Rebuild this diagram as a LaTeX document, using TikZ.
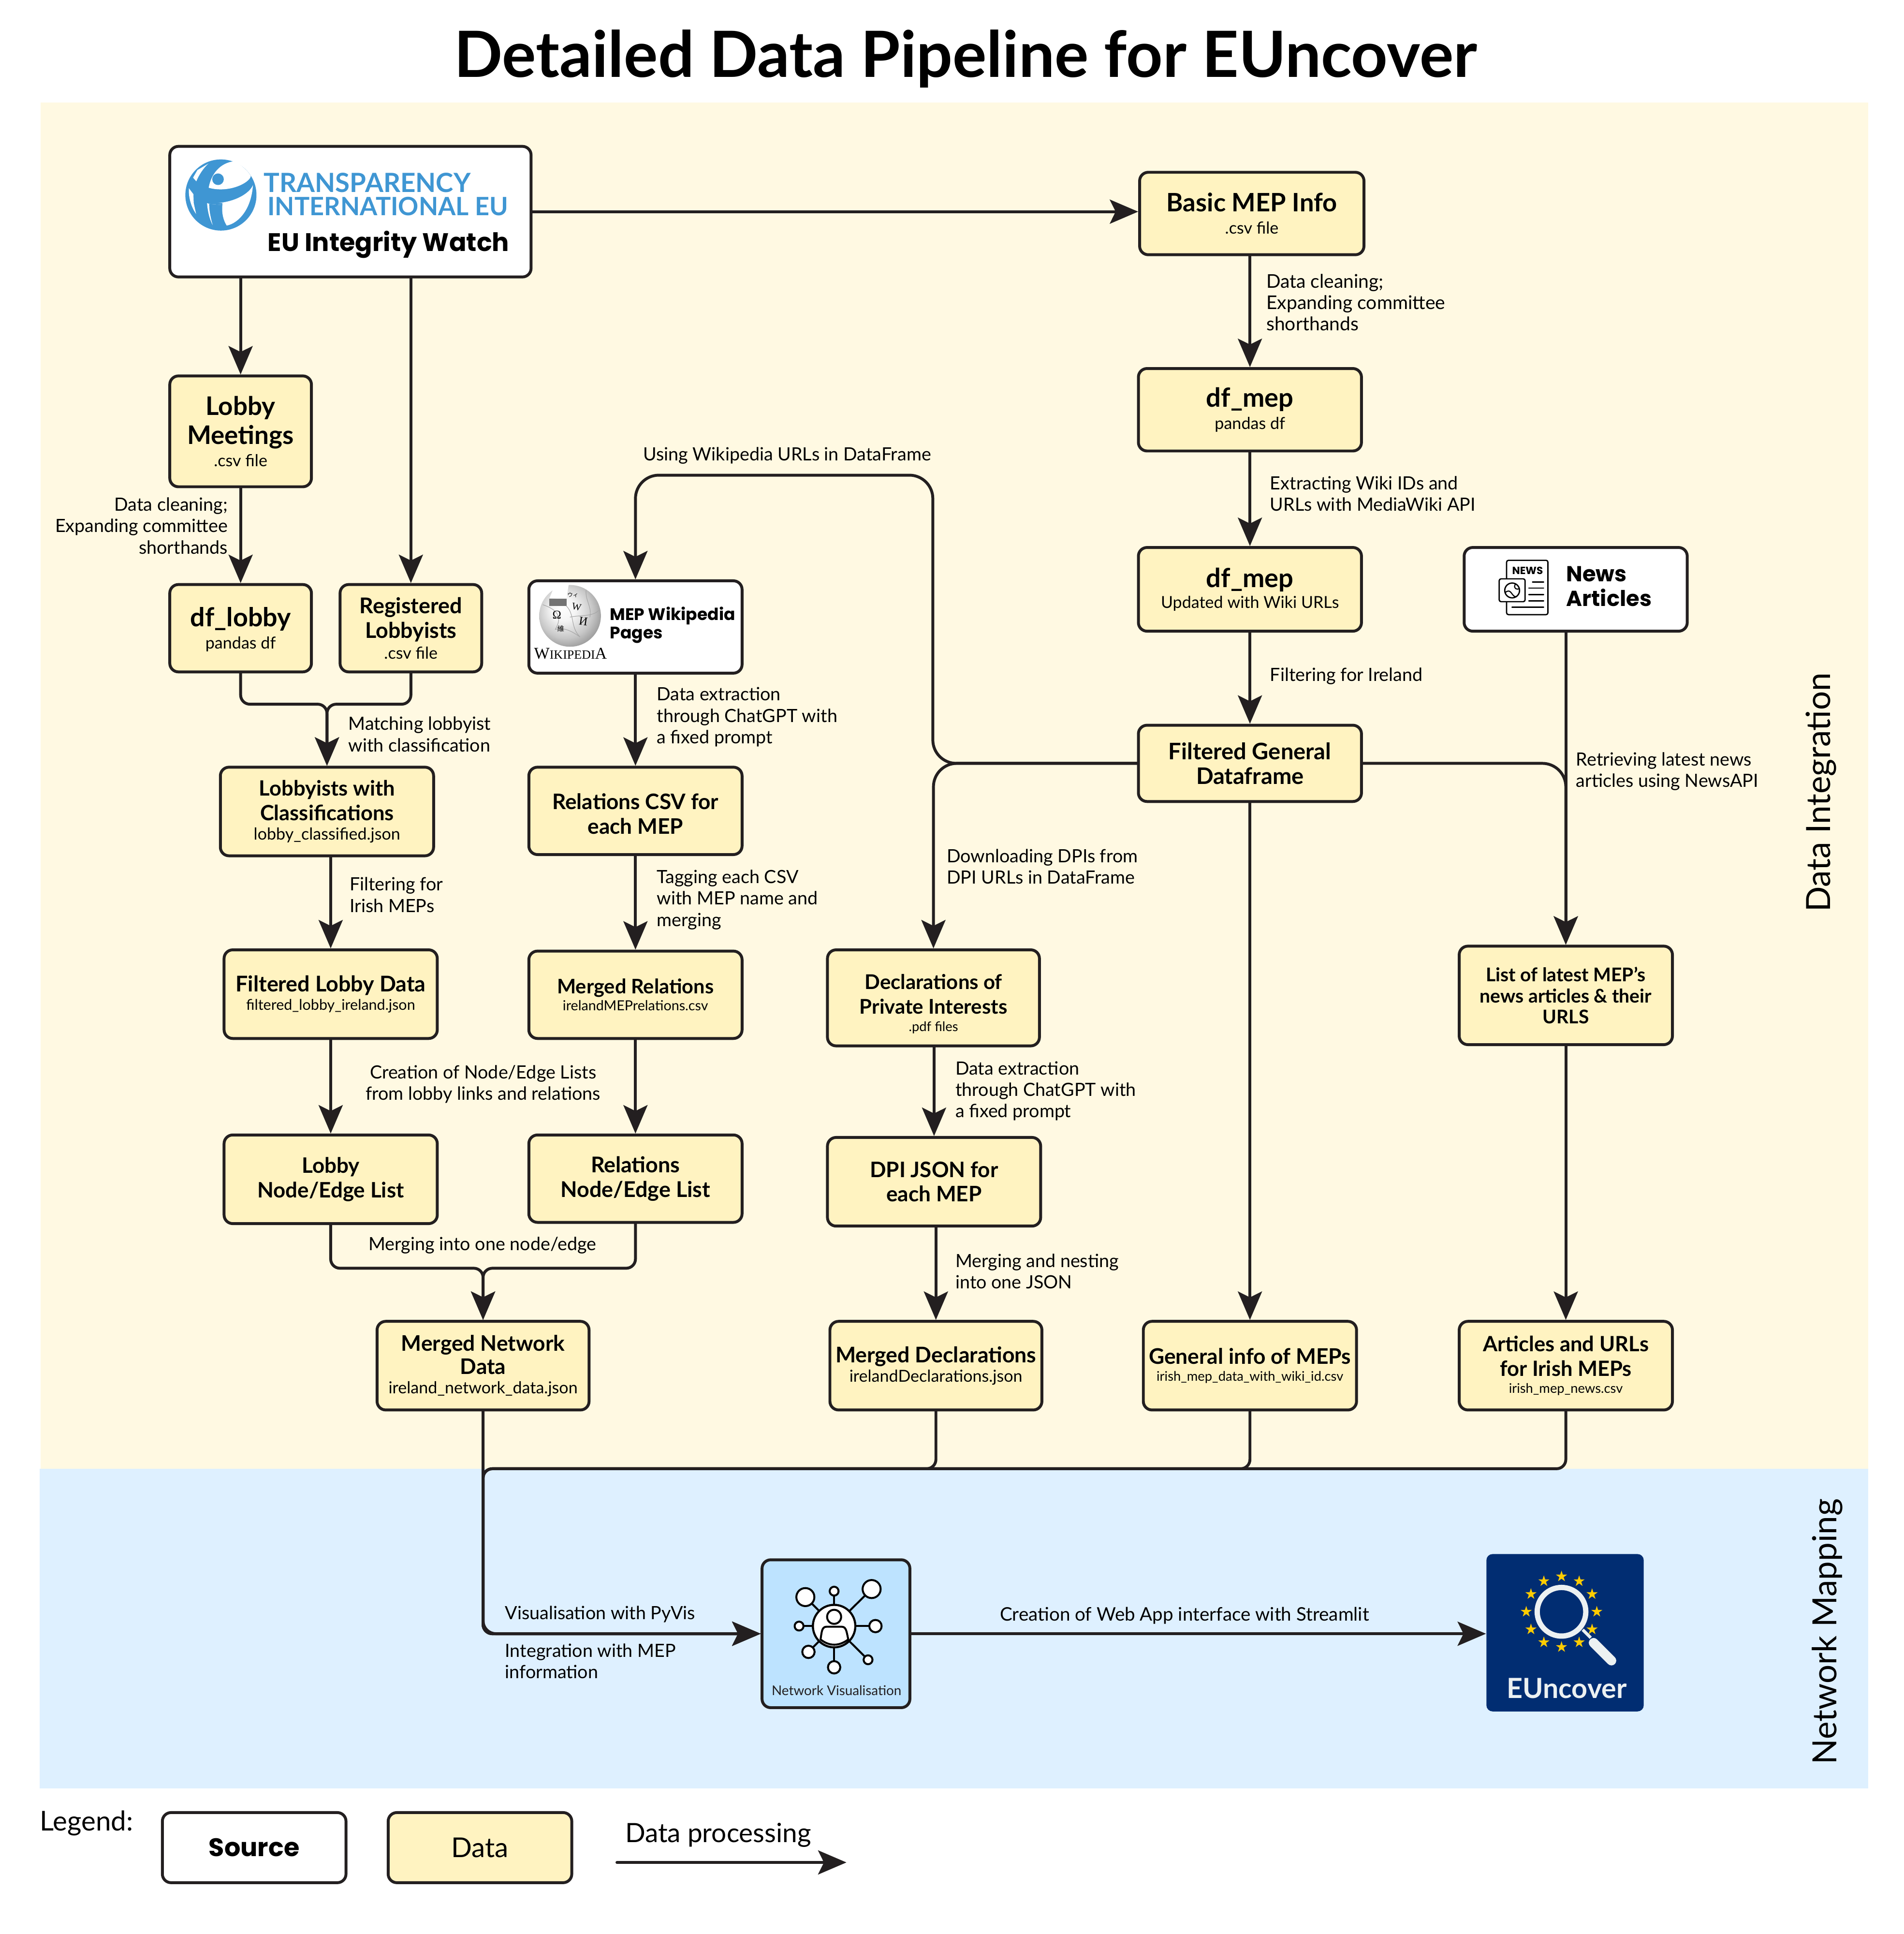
\documentclass[tikz,border=0pt]{standalone}
\usepackage{fontspec}
\setmainfont{Lato}
\newfontfamily\futura{Poppins}
\newfontfamily\wikiserif{Liberation Serif}
\newfontfamily\cjk{Noto Sans CJK SC}
\usepackage{tikz}
\usetikzlibrary{arrows.meta,shapes.geometric}
\definecolor{ink}{HTML}{231F20}
\definecolor{integrationbg}{HTML}{FFF9E2}
\definecolor{mappingbg}{HTML}{DEF0FF}
\definecolor{datafill}{HTML}{FFF3C1}
\definecolor{netfill}{HTML}{BDE3FF}
\definecolor{tiblue}{HTML}{3F96D3}
\definecolor{eunavy}{HTML}{012D72}
\definecolor{eustar}{HTML}{FFCC00}
\definecolor{eugrey}{HTML}{ECF1F2}
\newcommand{\subA}{\fontsize{7.6}{9.7}\selectfont\mdseries}
\newcommand{\subB}{\fontsize{6.1}{8}\selectfont\mdseries}
\newcommand{\lbl}{\fontsize{8.4}{9.9}\selectfont}
\pgfdeclareradialshading{wikiball}{\pgfpoint{-7bp}{7bp}}{color(0bp)=(white);color(10bp)=(black!4);color(22bp)=(black!22);color(32bp)=(black!45);color(50bp)=(black!45)}
\tikzset{
  sized/.style 2 args={minimum width=(#1-1.2)*0.02cm,minimum height=(#2-1.2)*0.02cm},
  anybox/.style={draw=ink,line width=1.33pt,rounded corners=0.14cm,inner sep=0pt,align=center,text=black},
  databox/.style={anybox,fill=datafill},
  srcbox/.style={anybox,fill=white},
  netbox/.style={anybox,fill=netfill},
  ttl/.style={font=\fontsize{#1}{11.3}\selectfont\bfseries},
  flow/.style={->,draw=ink,line width=1.33pt,rounded corners=0.15cm},
  wideturn/.style={flow,rounded corners=0.38cm},
  lbl/.style={font=\lbl,align=left,anchor=west,inner sep=0pt,text=black},
  lblc/.style={lbl,align=center,anchor=center},
  icon/.style={draw=black,line width=0.9pt,fill=white},
  euro/.style={star,star points=5,star point ratio=2.618,fill=eustar,inner sep=0pt,minimum size=0.19cm},
  bigfont/.style={font=\fontsize{15.4}{18}\selectfont,inner sep=0pt,text=black}
}
\begin{document}
\begin{tikzpicture}[line cap=round,line join=round,>={Stealth[length=0.46cm,width=0.39cm,inset=0.095cm]},x=0.02cm,y=-0.02cm]
\useasboundingbox (0,0) rectangle (1543,1567);
\fill [integrationbg] (33,83) rectangle (1514,1190);
\fill [mappingbg] (32,1190) rectangle (1514,1449);
\node [inner sep=0pt,font=\fontsize{29.4}{34}\selectfont\bfseries] (title) at (782.5,47.5) {Detailed Data Pipeline for EUncover};
\node [bigfont,rotate=90] (integration) at (1476,642) {Data Integration};
\node [bigfont,rotate=90] (mapping) at (1481,1322) {Network Mapping};
\node [srcbox,sized={294}{107}] (source) at (284,171.5) {};
\node [databox,sized={183}{68},ttl=11.7] (basicmep) at (1014.5,173) {Basic MEP Info\\[-1.1pt]\subA .csv file};
\node [databox,sized={116}{91},ttl=11.8] (lobbymeet) at (195,349.5) {Lobby\\[2pt]Meetings\\[-1.1pt]\subA .csv file};
\node [databox,sized={116}{72},ttl=12] (dflobby) at (195,509) {\rule{0pt}{10pt}df\_lobby\\[-1.1pt]\subA pandas df};
\node [databox,sized={116}{72},ttl=10] (reglobby) at (333,509) {Registered\\Lobbyists\\[-1.7pt]\subA .csv file};
\node [databox,sized={174}{73},ttl=9.7] (lobbyclass) at (265,657.5) {Lobbyists with\\Classifications\\[-2.3pt]\subA lobby\_classified.json};
\node [databox,sized={174}{73},ttl=10] (filterlobby) at (268,805.5) {Filtered Lobby Data\\[-2.8pt]\fontsize{6.8}{8}\selectfont\mdseries filtered\_lobby\_ireland.json};
\node [databox,sized={174}{73},ttl=9.8] (lobbynode) at (268,955.5) {Lobby\\Node/Edge List};
\node [srcbox,sized={174}{76}] (wiki) at (515,508) {};
\node [databox,sized={174}{72},ttl=9.85] (relcsv) at (515,657) {\rule{0pt}{10pt}Relations CSV for\\each MEP};
\node [databox,sized={174}{72},ttl=9.25] (mergedrel) at (515,806) {Merged Relations\\[-3.4pt]\fontsize{6.4}{8}\selectfont\mdseries irelandMEPrelations.csv};
\node [databox,sized={174}{72},ttl=10] (relnode) at (515,955) {Relations\\Node/Edge List};
\node [databox,sized={173}{73},ttl=9.9] (mergednet) at (391.5,1106.5) {Merged Network\\[-0.6pt]Data\\[-2.3pt]\subA ireland\_network\_data.json};
\node [databox,sized={182}{68},ttl=12.1] (dfmep) at (1013,332) {df\_mep\\[-1.1pt]\subA pandas df};
\node [databox,sized={182}{69},ttl=12.1] (dfwiki) at (1013,477.5) {df\_mep\\[-1.7pt]\subA Updated with Wiki URLs};
\node [databox,sized={182}{63},ttl=10.5] (filtered) at (1013,618.5) {Filtered General\\Dataframe};
\node [srcbox,sized={182}{69}] (news) at (1277,477.5) {};
\node [databox,sized={173}{79},ttl=9.35] (decl) at (756.5,808.5) {\rule{0pt}{12.5pt}Declarations of\\Private Interests\\[-3.4pt]\subB .pdf files};
\node [databox,sized={174}{73},ttl=9.85] (dpijson) at (757,957.5) {DPI JSON for\\each MEP};
\node [databox,sized={173}{73},ttl=9.95] (mergedecl) at (758.5,1106.5) {Merged Declarations\\[-2.3pt]\subA irelandDeclarations.json};
\node [databox,sized={174}{73},ttl=9.9] (geninfo) at (1013,1106.5) {General info of MEPs\\[-3.4pt]\subB irish\_mep\_data\_with\_wiki\_id.csv};
\node [databox,sized={174}{81},font=\fontsize{8.7}{9.7}\selectfont\bfseries] (latest) at (1269,806.5) {List of latest MEP's\\news articles \& their\\URLS};
\node [databox,sized={174}{73},ttl=9.7] (articles) at (1269,1106.5) {Articles and URLs\\for Irish MEPs\\[-3.4pt]\subB irish\_mep\_news.csv};
\node [netbox,sized={121}{121}] (netvis) at (677.5,1323.7) {};
\node [fill=eunavy,rounded corners=0.1cm,sized={128.7}{128.7}] (euncover) at (1268.4,1322.9) {};
\node [srcbox,sized={150}{58},font=\futura\fontsize{11.7}{14}\selectfont\bfseries] (legsource) at (206,1497) {Source};
\node [databox,sized={150}{58},font=\fontsize{12.6}{14}\selectfont] (legdata) at (389,1497) {Data};
\node [inner sep=0pt,anchor=west,font=\fontsize{12.6}{14}\selectfont] (legendtxt) at (32,1477) {Legend:};
\node [inner sep=0pt,font=\fontsize{12.25}{14}\selectfont] (legarrowtxt) at (582,1487) {Data processing};
\coordinate (legfrom) at (500,1509);
\coordinate (legto) at (686,1509);
\coordinate (wikiturn) at (756,385);
\coordinate (busturn) at (391.5,1190);
\draw [flow] (source.east)-- (source.east -| basicmep.west);
\draw [flow] (lobbymeet.north |- source.south)-- (lobbymeet.north);
\draw [flow] (reglobby.north |- source.south)-- (reglobby.north);
\draw [flow] (lobbymeet.south)-- (dflobby.north);
\draw [flow] (dflobby.south)-- ++(0,25) -| (lobbyclass.north);
\draw [flow] (reglobby.south)-- ++(0,25) -| (lobbyclass.north);
\draw [flow] (lobbyclass.south -| filterlobby.north)-- (filterlobby.north);
\draw [flow] (filterlobby.south)-- (lobbynode.north);
\draw [flow] (lobbynode.south)-- ++(0,35) -| (mergednet.north);
\draw [flow] (relnode.south)-- ++(0,36) -| (mergednet.north);
\draw [wideturn] (filtered.west) -| (wikiturn) -| (wiki.north);
\draw [flow] (wiki.south)-- (relcsv.north);
\draw [flow] (relcsv.south)-- (mergedrel.north);
\draw [flow] (mergedrel.south)-- (relnode.north);
\draw [flow] (basicmep.south -| dfmep.north)-- (dfmep.north);
\draw [flow] (dfmep.south)-- (dfwiki.north);
\draw [flow] (dfwiki.south)-- (filtered.north);
\draw [flow] (filtered.south)-- (geninfo.north);
\draw [wideturn] (filtered.west) -| (decl.north);
\draw [flow] (decl.south -| dpijson.north)-- (dpijson.north);
\draw [flow] (dpijson.south -| mergedecl.north)-- (mergedecl.north);
\draw [wideturn] (filtered.east) -| (latest.north);
\draw [flow] (news.south -| latest.north)-- (latest.north);
\draw [flow] (latest.south)-- (articles.north);
\draw [flow,rounded corners=0.21cm] (mergednet.south) |- (netvis.west);
\draw [flow] (mergedecl.south) |- (busturn) |- (netvis.west);
\draw [flow] (geninfo.south) |- (busturn) |- (netvis.west);
\draw [flow] (articles.south) |- (busturn) |- (netvis.west);
\draw [flow] (netvis.east)-- (netvis.east -| euncover.west);
\draw [flow] (legfrom)-- (legto);
\node [lbl,align=right,anchor=east] (lobbyclean) at (185,426) {Data cleaning;\\Expanding committee\\shorthands};
\node [lbl,font=\fontsize{8.7}{9.9}\selectfont] (mepclean) at (1026,245) {Data cleaning;\\Expanding committee\\shorthands};
\node [lbl] (wikiids) at (1029,400) {Extracting Wiki IDs and\\URLs with MediaWiki API};
\node [lbl] (irelandfilter) at (1029,548) {Filtering for Ireland};
\node [lbl] (wikiurls) at (521,369) {Using Wikipedia URLs in DataFrame};
\node [lbl] (matching) at (282,595) {Matching lobbyist\\with classification};
\node [lbl] (irishfilter) at (283,725) {Filtering for\\Irish MEPs};
\node [lblc] (creation) at (391.5,878.5) {Creation of Node/Edge Lists\\from lobby links and relations};
\node [lblc] (mergeone) at (391,1009) {Merging into one node/edge};
\node [lbl] (wikiextract) at (532,581) {Data extraction\\through ChatGPT with\\a fixed prompt};
\node [lbl] (tagging) at (532,729) {Tagging each CSV\\with MEP name and\\merging};
\node [lbl] (dpidown) at (767,702) {Downloading DPIs from\\DPI URLs in DataFrame};
\node [lbl] (dpiextract) at (774,884) {Data extraction\\through ChatGPT with\\a fixed prompt};
\node [lbl] (nesting) at (774,1030) {Merging and nesting\\into one JSON};
\node [lbl] (newsapi) at (1277,625) {Retrieving latest news\\articles using NewsAPI};
\node [lbl] (pyvis) at (409,1308) {Visualisation with PyVis};
\node [lbl] (meginfo) at (409,1346) {Integration with MEP\\information};
\node [lblc,font=\fontsize{8.6}{9.9}\selectfont] (webapp) at (960,1309) {Creation of Web App interface with Streamlit};
\begin{scope}[shift={(145,125.4)},x=0.002612cm,y=-0.002612cm]
\fill [tiblue] (261,250) circle (221);
\fill [white] (185,205) .. controls (200,120) and (255,50) .. (345,40) -- (378,60) .. controls (410,85) and (435,110) .. (447,132) .. controls (440,175) and (310,240) .. (185,205) -- cycle;
\fill [tiblue] (243,152) circle (36);
\fill [white] (88,142) -- (115,95) -- (183,55) .. controls (150,85) and (125,125) .. (108,165) -- cycle;
\fill [white] (62,208) -- (90,245) -- (92,300) -- (107,368) .. controls (80,330) and (58,270) .. (62,208) -- cycle;
\fill [white] (175,300) .. controls (178,350) and (190,400) .. (210,437) .. controls (198,395) and (188,350) .. (188,305) -- cycle;
\fill [white] (188,302) -- (188,305) -- (270,312) .. controls (265,360) and (275,405) .. (297,440) .. controls (370,425) and (450,340) .. (460,188) .. controls (440,240) and (340,305) .. (188,302) -- cycle;
\fill [tiblue] (188,305) -- (270,312) -- (270,300) -- (188,296) -- cycle;
\end{scope}
\node [inner sep=0pt,anchor=west,text=tiblue,font=\fontsize{12.2}{14}\selectfont\bfseries] (tiline) at (213.5,148) {TRANSPARENCY};
\node [inner sep=0pt,anchor=west,text=tiblue,font=\fontsize{11.65}{14}\selectfont\bfseries] (tilinetwo) at (216.5,167) {INTERNATIONAL EU};
\node [inner sep=0pt,anchor=east,font=\futura\fontsize{11.7}{14}\selectfont\bfseries] (eiwatch) at (413,198) {EU Integrity Watch};
\shade [shading=wikiball] (462,499) circle (25);
\fill [white] (445.4,484.6) -- (448,478) -- (450.6,473) -- (461,473) -- (459.1,484.6) -- cycle;
\fill [black!55] (445,485.2) -- (459.1,485.2) -- (459.1,491) -- (445,491) -- cycle;
\draw [black!35,line width=0.25pt] (440,490) .. controls (452,494) and (456,500) .. (450,510) (459,491) .. controls (466,498) and (462,508) .. (470,516) (462,500) .. controls (472,498) and (480,500) .. (486,494) (450,510) .. controls (458,508) and (464,512) .. (470,516) (475,478) .. controls (474,486) and (480,492) .. (478,500);
\node [inner sep=0pt,rotate=-12,font=\wikiserif\fontsize{4.6}{6}\selectfont] (wikiw) at (467.3,491.8) {W};
\node [inner sep=0pt,font=\wikiserif\fontsize{5.5}{6}\selectfont] (wikiomega) at (451.3,498.3) {Ω};
\node [inner sep=0pt,rotate=-8,font=\wikiserif\fontsize{5.5}{6}\selectfont] (wikii) at (472.8,503.5) {И};
\node [inner sep=0pt,font=\cjk\fontsize{3.2}{4}\selectfont] (wikiwei) at (454.5,509.4) {維};
\node [inner sep=0pt,font=\cjk\fontsize{2.6}{3}\selectfont] (wikivi) at (464.3,482) {ウィ};
\node [inner sep=0pt,anchor=base west,font=\wikiserif] (wikiname) at (432.5,534) {\fontsize{7.6}{9}\selectfont W\fontsize{5.8}{9}\selectfont IKIPEDI\fontsize{7.6}{9}\selectfont A};
\node [inner sep=0pt,anchor=west,align=left,font=\futura\fontsize{7.7}{8.6}\selectfont\bfseries] (wikititle) at (494,506.5) {MEP Wikipedia\\Pages};
\draw [icon,line width=0.6pt,rounded corners=0.03cm] (1221,454) rectangle (1254.5,498);
\draw [icon,line width=0.6pt,rounded corners=0.03cm] (1215,469) rectangle (1236,487.5);
\draw [black,line width=0.6pt] (1225.5,478.4) circle (6);
\draw [black,line width=0.5pt] (1220,480) .. controls (1225,476) and (1225,484) .. (1229,483.5);
\draw [black,line width=0.5pt] (1228,473.5) .. controls (1226,477) and (1230,478) .. (1231,477);
\draw [black,line width=0.6pt] (1242,471.5) -- (1251,471.5);
\draw [black,line width=0.6pt] (1239,476.5) -- (1251,476.5);
\draw [black,line width=0.6pt] (1239,481.7) -- (1251,481.7);
\draw [black,line width=0.6pt] (1239,486.9) -- (1251,486.9);
\draw [black,line width=0.6pt] (1225.4,492) -- (1251,492);
\node [inner sep=0pt,font=\futura\fontsize{4.8}{6}\selectfont\bfseries] (newsicon) at (1238,462.5) {NEWS};
\node [inner sep=0pt,anchor=west,align=left,font=\futura\fontsize{10}{11.3}\selectfont\bfseries] (newstitle) at (1269,475) {News\\Articles};
\foreach \cx/\cy/\cr in {652.7/1294/7.3,676/1289.2/3.6,706.4/1287.5/7.3,647.6/1317.5/3.6,709.5/1317.5/5,655.2/1338.4/5,676/1350.9/5,703.5/1344.8/3.6}
{
\draw [black,line width=0.9pt] (676,1317.5) -- (\cx,\cy);
\draw [icon] (\cx,\cy) circle (\cr);
}
\draw [icon] (676,1317.5) circle (17.2);
\draw [icon] (676,1310) circle (5.7);
\draw [icon] (665,1328.3) .. controls (666,1322) and (666,1318) .. (670,1318) -- (682,1318) .. controls (686,1318) and (686,1322) .. (687.5,1328.3) .. controls (680,1334) and (672,1334) .. (665,1328.3) -- cycle;
\draw [black,line width=0.9pt] (676,1317.5) circle (17.2);
\node [inner sep=0pt,font=\fontsize{6.2}{8}\selectfont,text=ink] (netcaption) at (678,1369.6) {Network Visualisation};
\foreach \a in {0,30,...,330}
{
\node [euro] (star\a) at ({1265.5+28.6*cos(\a)},{1305.9+28.6*sin(\a)}) {};
}
\draw [eugrey,line width=0.086cm] (1265.5,1305.9) circle (19.7);
\draw [eugrey,line width=0.05cm,line cap=butt] (1282.7,1320.5) -- (1289.2,1327);
\draw [eugrey,line width=0.155cm] (1291.5,1331) -- (1306,1345.5);
\node [inner sep=0pt,text=eugrey,font=\fontsize{12.8}{15}\selectfont\bfseries] (eunname) at (1269.8,1368) {EUncover};
\end{tikzpicture}
\end{document}
